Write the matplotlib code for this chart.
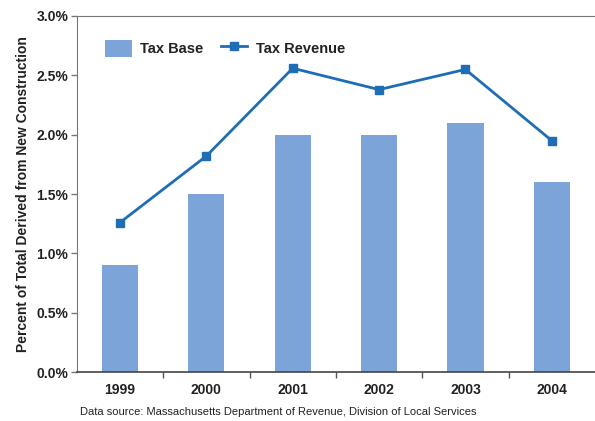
import matplotlib

matplotlib.use("Agg")
import matplotlib.pyplot as plt
from matplotlib.ticker import FixedLocator, FuncFormatter

years = ["1999", "2000", "2001", "2002", "2003", "2004"]
tax_base = [0.90, 1.50, 2.00, 2.00, 2.10, 1.60]
tax_revenue = [1.26, 1.82, 2.56, 2.38, 2.55, 1.95]

BAR = "#7da4d8"
LINE = "#1f6db5"
TEXT = "#222222"

plt.rcParams["font.family"] = ["Liberation Sans", "DejaVu Sans"]

fig = plt.figure(figsize=(5.95, 4.21), dpi=100)
ax = fig.add_axes([0.129, 0.116, 0.871, 0.846])

x = list(range(len(years)))
bars = ax.bar(x, tax_base, width=0.42, color=BAR, label="Tax Base", zorder=2)
line, = ax.plot(x, tax_revenue, color=LINE, lw=2, marker="s", ms=5.5,
                label="Tax Revenue", zorder=3)

ax.set_xlim(-0.5, len(years) - 0.5)
ax.set_ylim(0, 3.0)
ax.set_yticks([0, 0.5, 1.0, 1.5, 2.0, 2.5, 3.0])
ax.yaxis.set_major_formatter(FuncFormatter(lambda v, _: f"{v:.1f}%"))

# year labels centred under bars, tick marks between categories
ax.set_xticks(x)
ax.set_xticklabels(years)
ax.tick_params(axis="x", which="major", length=0, pad=8)
ax.xaxis.set_minor_locator(FixedLocator([i + 0.5 for i in x[:-1]]))
ax.tick_params(axis="x", which="minor", length=4, width=1, color="#555555")
ax.tick_params(axis="y", length=4, width=1, color="#777777", pad=2)

for lab in ax.get_xticklabels() + ax.get_yticklabels():
    lab.set_fontweight("bold")
    lab.set_fontsize(10)
    lab.set_color(TEXT)

ax.spines["right"].set_visible(False)
ax.spines["top"].set_color("#777777")
ax.spines["left"].set_color("#777777")
ax.spines["bottom"].set_color("#444444")
ax.spines["bottom"].set_linewidth(1.2)

ax.set_ylabel("Percent of Total Derived from New Construction",
              fontsize=10, fontweight="bold", color=TEXT, labelpad=5)

leg = ax.legend([bars, line], ["Tax Base", "Tax Revenue"],
                loc="upper left", bbox_to_anchor=(0.03, 0.97), ncol=2,
                frameon=False, handlelength=1.8, handleheight=1.4,
                columnspacing=1.2, handletextpad=0.6,
                prop={"weight": "bold", "size": 10.5})
for t in leg.get_texts():
    t.set_color(TEXT)

fig.text(0.135, 0.015,
         "Data source: Massachusetts Department of Revenue, Division of Local Services",
         fontsize=8, color=TEXT)

fig.savefig("out.png", dpi=100)
